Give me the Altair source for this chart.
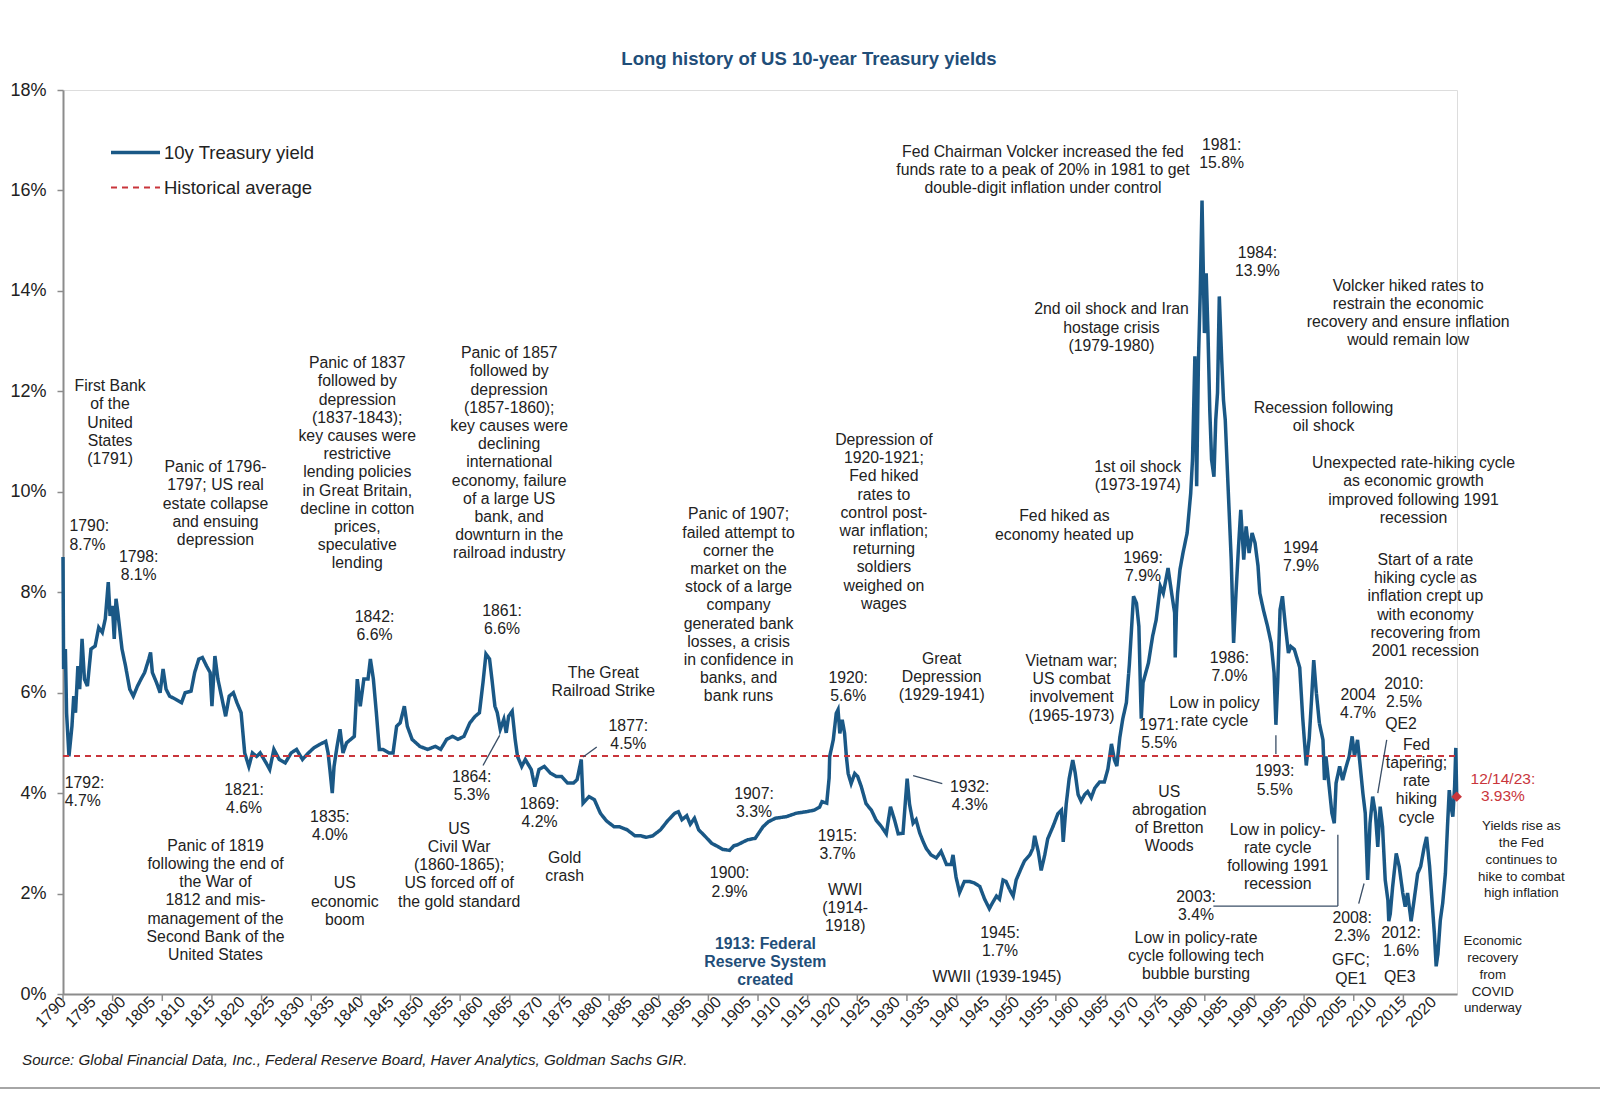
import altair as alt
import pandas as pd

FONT = "Liberation Sans"
BLUE = "#1A5886"
RED = "#C9353B"
TXT = "#222222"
NAVY = "#1F4E79"
GREY = "#8C8C8C"

# ---------------- data: 10y yield (year, %) ----------------
years = [
    1790.0, 1790.1, 1790.4, 1790.6, 1791.0, 1791.5, 1791.8, 1792.1, 1792.5, 1792.8,
    1793.2, 1793.6, 1794.1, 1794.7, 1795.4, 1796.0, 1796.6, 1797.1, 1797.6, 1797.9,
    1798.3, 1798.6, 1798.9, 1799.2, 1799.9, 1800.5, 1801.2, 1801.8, 1802.5, 1803.1,
    1803.7, 1804.4, 1804.7, 1805.0, 1805.7, 1806.3, 1806.8, 1807.3, 1807.9, 1808.9,
    1809.9, 1810.5, 1811.5, 1812.1, 1812.8, 1813.4, 1814.1, 1814.7, 1815.0, 1815.5,
    1816.0, 1816.6, 1817.3, 1817.9, 1818.6, 1819.2, 1819.9, 1820.5, 1821.2, 1821.8,
    1822.5, 1823.1, 1824.1, 1824.7, 1825.4, 1826.3, 1827.3, 1828.3, 1829.2, 1830.2,
    1831.2, 1832.1, 1833.1, 1834.1, 1834.5, 1834.8, 1835.2, 1835.5, 1836.0, 1836.5,
    1837.0, 1837.6, 1838.3, 1838.9, 1839.4, 1839.9, 1840.5, 1841.2, 1841.6, 1842.1,
    1842.6, 1843.1, 1843.7, 1844.7, 1845.4, 1846.0, 1846.6, 1847.3, 1847.8, 1848.6,
    1849.9, 1851.2, 1852.5, 1853.4, 1854.4, 1855.4, 1856.3, 1857.3, 1858.3, 1859.2,
    1859.9, 1860.5, 1861.0, 1861.6, 1862.0, 1862.5, 1862.9, 1863.4, 1864.0, 1864.4,
    1864.8, 1865.4, 1865.9, 1866.3, 1867.0, 1867.6, 1868.6, 1869.2, 1869.9, 1870.8,
    1871.8, 1872.8, 1873.7, 1874.7, 1875.7, 1876.3, 1877.0, 1877.3, 1878.3, 1879.2,
    1880.2, 1881.2, 1882.5, 1883.4, 1884.7, 1886.0, 1887.0, 1887.9, 1889.0, 1890.3,
    1891.5, 1892.7, 1893.3, 1893.9, 1894.7, 1895.3, 1896.0, 1896.7, 1897.7, 1898.9,
    1900.0, 1900.7, 1901.9, 1902.6, 1903.2, 1904.9, 1906.2, 1907.5, 1908.4, 1909.6,
    1911.4, 1913.1, 1914.8, 1916.1, 1917.0, 1917.4, 1918.2, 1918.6, 1918.7, 1919.3,
    1919.8, 1920.1, 1920.4, 1920.8, 1921.2, 1921.5, 1921.8, 1922.3, 1922.9, 1923.4,
    1924.0, 1924.8, 1925.7, 1926.5, 1927.4, 1928.2, 1928.9, 1929.6, 1930.2, 1931.0,
    1931.7, 1932.1, 1932.7, 1933.2, 1933.8, 1934.4, 1934.9, 1935.7, 1936.6, 1937.4,
    1938.3, 1939.1, 1939.4, 1939.9, 1940.5, 1941.3, 1942.2, 1943.0, 1943.9, 1944.7,
    1945.5, 1946.1, 1946.7, 1947.2, 1947.8, 1948.3, 1948.9, 1949.5, 1950.0, 1950.9,
    1951.4, 1952.3, 1952.8, 1953.1, 1953.7, 1954.2, 1954.8, 1955.3, 1956.2, 1957.0,
    1957.6, 1957.9, 1958.4, 1958.9, 1959.5, 1959.9, 1960.4, 1960.9, 1961.5, 1962.0,
    1962.6, 1963.2, 1964.0, 1964.8, 1965.4, 1966.0, 1966.5, 1966.9, 1967.4, 1967.9,
    1968.5, 1969.0, 1969.7, 1970.2, 1970.6, 1970.9, 1971.0, 1971.3, 1971.6, 1972.2,
    1972.9, 1973.5, 1974.2, 1974.7, 1975.5, 1976.1, 1976.6, 1976.7, 1976.9, 1977.1,
    1977.5, 1978.0, 1978.7, 1979.3, 1979.6, 1980.0, 1980.3, 1980.6, 1980.9, 1981.2,
    1981.6, 1981.9, 1982.2, 1982.5, 1982.8, 1983.2, 1983.5, 1983.8, 1984.1, 1984.5,
    1984.8, 1985.1, 1985.5, 1986.1, 1986.5, 1986.9, 1987.3, 1987.7, 1988.2, 1988.6,
    1989.1, 1989.6, 1990.1, 1990.6, 1990.9, 1991.5, 1992.2, 1992.8, 1993.3, 1993.6,
    1993.9, 1994.3, 1994.7, 1995.2, 1995.7, 1996.1, 1996.7, 1997.2, 1997.6, 1998.1,
    1998.7, 1999.2, 1999.6, 1999.95, 2000.35, 2000.9, 2001.5, 2001.75, 2002.0, 2002.6,
    2003.0, 2003.4, 2003.7, 2004.3, 2004.8, 2005.4, 2005.9, 2006.4, 2006.8, 2007.3,
    2007.7, 2008.2, 2008.6, 2009.0, 2009.4, 2009.85, 2010.3, 2010.7, 2011.1, 2011.5,
    2011.95, 2012.4, 2012.55, 2012.8, 2013.2, 2013.8, 2014.3, 2014.9, 2015.3, 2015.7,
    2016.3, 2016.8, 2017.4, 2017.9, 2018.5, 2018.9, 2019.4, 2019.8, 2020.2, 2020.5,
    2020.8, 2021.2, 2021.6, 2022.05, 2022.4, 2022.7, 2023.0, 2023.3, 2023.6, 2023.8,
    2023.95,
]
yields = [
    8.7, 6.47, 6.87, 5.6, 4.73, 5.33, 5.93, 5.6, 6.53, 6.07,
    7.07, 6.27, 6.13, 6.87, 6.93, 7.3, 7.2, 7.47, 8.2, 7.53,
    7.73, 7.07, 7.87, 7.6, 6.87, 6.53, 6.07, 5.93, 6.13, 6.27,
    6.4, 6.67, 6.8, 6.4, 6.2, 6.0, 6.47, 6.07, 5.93, 5.87,
    5.8, 6.0, 6.03, 6.4, 6.67, 6.7, 6.53, 6.4, 5.73, 6.73,
    6.27, 5.93, 5.53, 5.93, 6.0, 5.8, 5.6, 4.8, 4.53, 4.8,
    4.73, 4.8, 4.6, 4.47, 4.87, 4.67, 4.6, 4.8, 4.87, 4.67,
    4.8, 4.9, 4.97, 5.03, 4.8, 4.47, 4.0, 4.53, 4.93, 5.27,
    4.8, 5.0, 5.07, 5.13, 6.27, 5.73, 6.27, 6.27, 6.67, 6.27,
    5.6, 4.87, 4.87, 4.8, 4.8, 5.33, 5.4, 5.73, 5.33, 5.07,
    4.93, 4.87, 4.93, 4.87, 5.07, 5.13, 5.07, 5.13, 5.4, 5.53,
    5.6, 6.2, 6.77, 6.67, 6.27, 5.73, 5.6, 5.27, 5.47, 5.2,
    5.53, 5.63, 5.07, 4.73, 4.53, 4.67, 4.47, 4.13, 4.47, 4.53,
    4.4, 4.33, 4.33, 4.2, 4.2, 4.27, 4.67, 3.8, 3.93, 3.87,
    3.6, 3.45, 3.33, 3.33, 3.27, 3.15, 3.15, 3.12, 3.15, 3.27,
    3.45, 3.6, 3.63, 3.47, 3.55, 3.38, 3.5, 3.27, 3.15, 3.0,
    2.93, 2.88, 2.86, 2.95, 2.97, 3.07, 3.1, 3.33, 3.43, 3.5,
    3.53, 3.6, 3.63, 3.66, 3.72, 3.83, 3.8, 4.3, 4.73, 5.06,
    5.59, 5.66, 5.19, 5.46, 5.19, 4.73, 4.39, 4.19, 4.39, 4.33,
    4.13, 3.79, 3.66, 3.46, 3.33, 3.19, 3.73, 3.46, 3.19, 3.2,
    4.29, 3.78, 3.4, 3.47, 3.21, 3.03, 2.9, 2.77, 2.71, 2.84,
    2.58, 2.58, 2.77, 2.33, 2.02, 2.24, 2.24, 2.21, 2.14, 1.89,
    1.7, 1.83, 1.95, 1.89, 2.27, 2.24, 2.08, 1.95, 2.27, 2.52,
    2.65, 2.77, 2.9, 3.15, 2.84, 2.46, 2.77, 3.09, 3.34, 3.59,
    3.66, 3.03, 3.78, 4.29, 4.66, 4.41, 3.97, 3.84, 3.97, 4.03,
    3.91, 4.1, 4.22, 4.22, 4.48, 4.98, 4.66, 4.54, 5.11, 5.48,
    5.8, 6.56, 7.92, 7.78, 7.32, 5.9, 5.48, 6.2, 6.33, 6.59,
    7.12, 7.45, 8.12, 7.98, 8.48, 7.98, 7.59, 6.7, 7.6, 7.98,
    8.45, 8.78, 9.18, 9.97, 10.64, 12.7, 10.11, 12.63, 13.96, 15.8,
    13.16, 14.35, 13.16, 11.63, 10.64, 10.3, 11.43, 11.97, 13.89, 12.63,
    11.83, 11.43, 10.3, 8.65, 6.99, 7.98, 8.85, 9.64, 8.65, 9.31,
    8.78, 9.18, 8.98, 8.52, 7.98, 7.65, 7.32, 6.99, 6.39, 5.36,
    6.2, 7.65, 7.92, 7.32, 6.79, 6.92, 6.86, 6.66, 6.5, 5.5,
    4.55, 5.1, 5.9, 6.65, 6.05, 5.39, 5.06, 4.26, 4.73, 4.06,
    3.6, 3.4, 4.2, 4.53, 4.26, 4.53, 4.73, 5.13, 4.73, 5.06,
    4.6, 4.0, 3.6, 2.27, 3.4, 3.93, 3.6, 2.93, 3.73, 3.33,
    2.27, 1.87, 1.45, 1.6, 2.14, 2.8, 2.54, 2.01, 1.74, 2.01,
    1.45, 1.87, 2.4, 2.54, 2.93, 3.13, 2.54, 1.87, 1.21, 0.55,
    0.8, 1.47, 1.81, 2.4, 3.33, 4.06, 3.73, 3.53, 4.13, 4.9,
    3.93,
]
avg_yield = 4.74
last_year = 2023.95
last_yield = 3.93

series_names = ["10y Treasury yield", "Historical average"]
label_years = list(range(1790, 2021, 5))
tick_years = [1790 + k * 100 / 12 for k in range(28)]  # Excel-style tick marks every 100 months

# ---------------- annotations (text, year, value = top of block) ----------------
ann_text = [
    "First Bank\nof the\nUnited\nStates\n(1791)",
    "1798:\n8.1%",
    "Panic of 1796-\n1797; US real\nestate collapse\nand ensuing\ndepression",
    "Panic of 1837\nfollowed by\ndepression\n(1837-1843);\nkey causes were\nrestrictive\nlending policies\nin Great Britain,\ndecline in cotton\nprices,\nspeculative\nlending",
    "Panic of 1857\nfollowed by\ndepression\n(1857-1860);\nkey causes were\ndeclining\ninternational\neconomy, failure\nof a large US\nbank, and\ndownturn in the\nrailroad industry",
    "1842:\n6.6%",
    "1861:\n6.6%",
    "The Great\nRailroad Strike",
    "1877:\n4.5%",
    "1821:\n4.6%",
    "1835:\n4.0%",
    "1864:\n5.3%",
    "1869:\n4.2%",
    "Panic of 1819\nfollowing the end of\nthe War of\n1812 and mis-\nmanagement of the\nSecond Bank of the\nUnited States",
    "US\neconomic\nboom",
    "US\nCivil War\n(1860-1865);\nUS forced off of\nthe gold standard",
    "Gold\ncrash",
    "Panic of 1907;\nfailed attempt to\ncorner the\nmarket on the\nstock of a large\ncompany\ngenerated bank\nlosses, a crisis\nin confidence in\nbanks, and\nbank runs",
    "1907:\n3.3%",
    "1900:\n2.9%",
    "1915:\n3.7%",
    "WWI\n(1914-\n1918)",
    "1920:\n5.6%",
    "Depression of\n1920-1921;\nFed hiked\nrates to\ncontrol post-\nwar inflation;\nreturning\nsoldiers\nweighed on\nwages",
    "Great\nDepression\n(1929-1941)",
    "1932:\n4.3%",
    "1945:\n1.7%",
    "WWII (1939-1945)",
    "Vietnam war;\nUS combat\ninvolvement\n(1965-1973)",
    "Fed hiked as\neconomy heated up",
    "1969:\n7.9%",
    "1st oil shock\n(1973-1974)",
    "2nd oil shock and Iran\nhostage crisis\n(1979-1980)",
    "Fed Chairman Volcker increased the fed\nfunds rate to a peak of 20% in 1981 to get\ndouble-digit inflation under control",
    "1981:\n15.8%",
    "1984:\n13.9%",
    "Volcker hiked rates to\nrestrain the economic\nrecovery and ensure inflation\nwould remain low",
    "Recession following\noil shock",
    "Unexpected rate-hiking cycle\nas economic growth\nimproved following 1991\nrecession",
    "1994\n7.9%",
    "Start of a rate\nhiking cycle as\ninflation crept up\nwith economy\nrecovering from\n2001 recession",
    "1986:\n7.0%",
    "Low in policy\nrate cycle",
    "1971:\n5.5%",
    "1993:\n5.5%",
    "US\nabrogation\nof Bretton\nWoods",
    "Low in policy-\nrate cycle\nfollowing 1991\nrecession",
    "2003:\n3.4%",
    "Low in policy-rate\ncycle following tech\nbubble bursting",
    "2004\n4.7%",
    "2010:\n2.5%",
    "QE2",
    "Fed\ntapering;\nrate\nhiking\ncycle",
    "2008:\n2.3%",
    "GFC;\nQE1",
    "2012:\n1.6%",
    "QE3",
]
ann_year = [
    1797.9, 1802.7, 1815.6, 1839.4, 1864.9, 1842.3, 1863.7, 1880.7, 1884.9, 1820.4,
    1834.8, 1858.6, 1870.0, 1815.6, 1837.3, 1856.5, 1874.2, 1903.4, 1906.0, 1901.9,
    1920.0, 1921.3, 1921.8, 1927.8, 1937.5, 1942.2, 1947.3, 1946.8, 1959.3, 1958.1,
    1971.3, 1970.4, 1966.0, 1954.5, 1984.5, 1990.5, 2015.8, 2001.6, 2016.7, 1997.8,
    2018.7, 1985.8, 1983.3, 1974.0, 1993.4, 1975.7, 1993.9, 1980.2, 1980.2, 2007.4,
    2015.1, 2014.6, 2017.2, 2006.4, 2006.2, 2014.6, 2014.4,
]
ann_value = [
    12.24, 8.84, 10.63, 12.7, 12.9, 7.64, 7.76, 6.54, 5.47, 4.21,
    3.66, 4.47, 3.92, 3.09, 2.34, 3.43, 2.85, 9.69, 4.12, 2.54,
    3.29, 2.21, 6.44, 11.17, 6.81, 4.27, 1.36, 0.47, 6.77, 9.65,
    8.82, 10.63, 13.77, 16.91, 17.05, 14.89, 14.24, 11.81, 10.71, 9.02,
    8.78, 6.83, 5.93, 5.49, 4.57, 4.17, 3.41, 2.07, 1.26, 6.09,
    6.32, 5.51, 5.1, 1.65, 0.81, 1.36, 0.47,
]

left_text = ["1790:\n8.7%", "1792:\n4.7%"]
left_year = [1791.1, 1790.3]
left_value = [9.45, 4.35]

fed_text = ["1913: Federal\nReserve System\ncreated"]
fed_year = [1907.9]
fed_value = [1.14]

red_text = ["12/14/23:\n3.93%"]
red_year = [2031.7]
red_value = [4.42]

small_text = [
    "Yields rise as\nthe Fed\ncontinues to\nhike to combat\nhigh inflation",
    "Economic\nrecovery\nfrom\nCOVID\nunderway",
]
small_year = [2034.8, 2030.0]
small_value = [3.48, 1.19]

# leader lines (from -> to, in data units)
lead_x1 = [1877.3, 1860.5, 1932.7, 1993.6, 1983.1, 2004.0, 2012.2, 2007.5]
lead_y1 = [4.72, 4.55, 4.35, 5.15, 1.75, 1.75, 5.06, 1.8]
lead_x2 = [1879.6, 1863.3, 1937.6, 1993.6, 2004.0, 2004.0, 2010.7, 2008.4]
lead_y2 = [4.92, 5.15, 4.19, 4.78, 1.75, 3.17, 4.0, 2.2]

source = "Source: Global Financial Data, Inc., Federal Reserve Board, Haver Analytics, Goldman Sachs GIR."
title = "Long history of US 10-year Treasury yields"

# ---------------- frames ----------------
df_line = pd.DataFrame({"year": years, "value": yields, "series": series_names[0]})
df_avg = pd.DataFrame({"year": [1790, last_year], "value": [avg_yield, avg_yield], "series": series_names[1]})
df_ann = pd.DataFrame({"year": ann_year, "value": ann_value, "label": ann_text})
df_left = pd.DataFrame({"year": left_year, "value": left_value, "label": left_text})
df_fed = pd.DataFrame({"year": fed_year, "value": fed_value, "label": fed_text})
df_red = pd.DataFrame({"year": red_year, "value": red_value, "label": red_text})
df_small = pd.DataFrame({"year": small_year, "value": small_value, "label": small_text})
df_lead = pd.DataFrame({"year": lead_x1, "value": lead_y1, "year2": lead_x2, "value2": lead_y2})
df_ticks = pd.DataFrame({"year": tick_years})
df_last = pd.DataFrame({"year": [last_year], "value": [last_yield]})

PW, PH = 1394, 904

x_scale = alt.Scale(domain=[1790, 2024], nice=False, zero=False)
y_scale = alt.Scale(domain=[0, 18], nice=False, zero=True)

x_axis = alt.Axis(
    values=label_years, format="d", labelAngle=-45, labelAlign="right", labelBaseline="middle",
    ticks=False, labelPadding=5, labelFontSize=16, labelFont=FONT, labelColor=TXT,
    labelOverlap=False, labelFlush=False, labelBound=False,
    domainColor=GREY, domainWidth=2, grid=False, title=None,
)
y_axis = alt.Axis(
    values=list(range(0, 19, 2)), labelExpr="datum.value + '%'", tickSize=6, tickColor=GREY,
    tickWidth=1.5, labelPadding=11, labelFontSize=18, labelFont=FONT, labelColor=TXT,
    domainColor=GREY, domainWidth=2, grid=False, title=None,
)
X = alt.X("year:Q", scale=x_scale, axis=x_axis)
Y = alt.Y("value:Q", scale=y_scale, axis=y_axis)

leg = alt.Legend(
    title=None, orient="none", legendX=46, legendY=36, symbolType="stroke", symbolSize=2400,
    labelFontSize=18.5, labelFont=FONT, labelColor=TXT, rowPadding=-19, labelOffset=2, padding=0,
)
color = alt.Color("series:N", scale=alt.Scale(domain=series_names, range=[BLUE, RED]), legend=leg)
dash = alt.StrokeDash("series:N", scale=alt.Scale(domain=series_names, range=[[1, 0], [6, 5]]), legend=leg)
swidth = alt.StrokeWidth("series:N", scale=alt.Scale(domain=series_names, range=[3.5, 2]), legend=leg)

line = alt.Chart(df_line).mark_line(interpolate="linear").encode(
    x=X, y=Y, color=color, strokeDash=dash, strokeWidth=swidth)
avg = alt.Chart(df_avg).mark_line().encode(
    x=X, y=Y, color=color, strokeDash=dash, strokeWidth=swidth)

ticks = alt.Chart(df_ticks).mark_rule(color=GREY, strokeWidth=1.5).encode(
    x=X, y=alt.value(PH), y2=alt.value(PH + 7))

leaders = alt.Chart(df_lead).mark_rule(color="#3A4E66", strokeWidth=1.3).encode(
    x=X, y=Y, x2="year2:Q", y2="value2:Q")

def text_layer(df, **kw):
    return alt.Chart(df).mark_text(font=FONT, lineBreak="\n", baseline="top", **kw).encode(
        x=X, y=Y, text="label:N")

ann = text_layer(df_ann, align="center", fontSize=15.8, lineHeight=18.2, color=TXT)
left = text_layer(df_left, align="left", fontSize=15.8, lineHeight=18.2, color=TXT)
fed = text_layer(df_fed, align="center", fontSize=15.8, lineHeight=18.2, color=NAVY, fontWeight="bold")
red = text_layer(df_red, align="center", fontSize=15.5, lineHeight=17, color=RED)
small = text_layer(df_small, align="center", fontSize=13.3, lineHeight=16.8, color=TXT)

marker = alt.Chart(df_last).mark_point(shape="diamond", filled=True, size=110, color=RED, opacity=1).encode(
    x=X, y=Y)

src = alt.Chart(pd.DataFrame({"label": [source]})).mark_text(
    font=FONT, fontSize=15.2, fontStyle="italic", color=TXT, align="left", baseline="middle"
).encode(x=alt.value(-41), y=alt.value(970), text="label:N")

border = alt.Chart(pd.DataFrame({"a": [0]})).mark_rule(color="#A6A6A6", strokeWidth=2).encode(
    x=alt.value(-63), x2=alt.value(1537), y=alt.value(998))

chart = alt.layer(
    ticks, line, avg, leaders, ann, left, fed, red, small, marker, src, border
).properties(
    width=PW, height=PH,
    title=alt.TitleParams(title, fontSize=18.5, fontWeight="bold", color=NAVY, font=FONT,
                          anchor="middle", frame="group", dx=49, offset=13),
    autosize=alt.AutoSizeParams(type="none"),
    padding={"left": 63, "top": 90, "right": 143, "bottom": 105},
).configure_view(strokeWidth=0).configure(background="white")

chart.save("out.html", embed_options={"renderer": "svg", "actions": False})
